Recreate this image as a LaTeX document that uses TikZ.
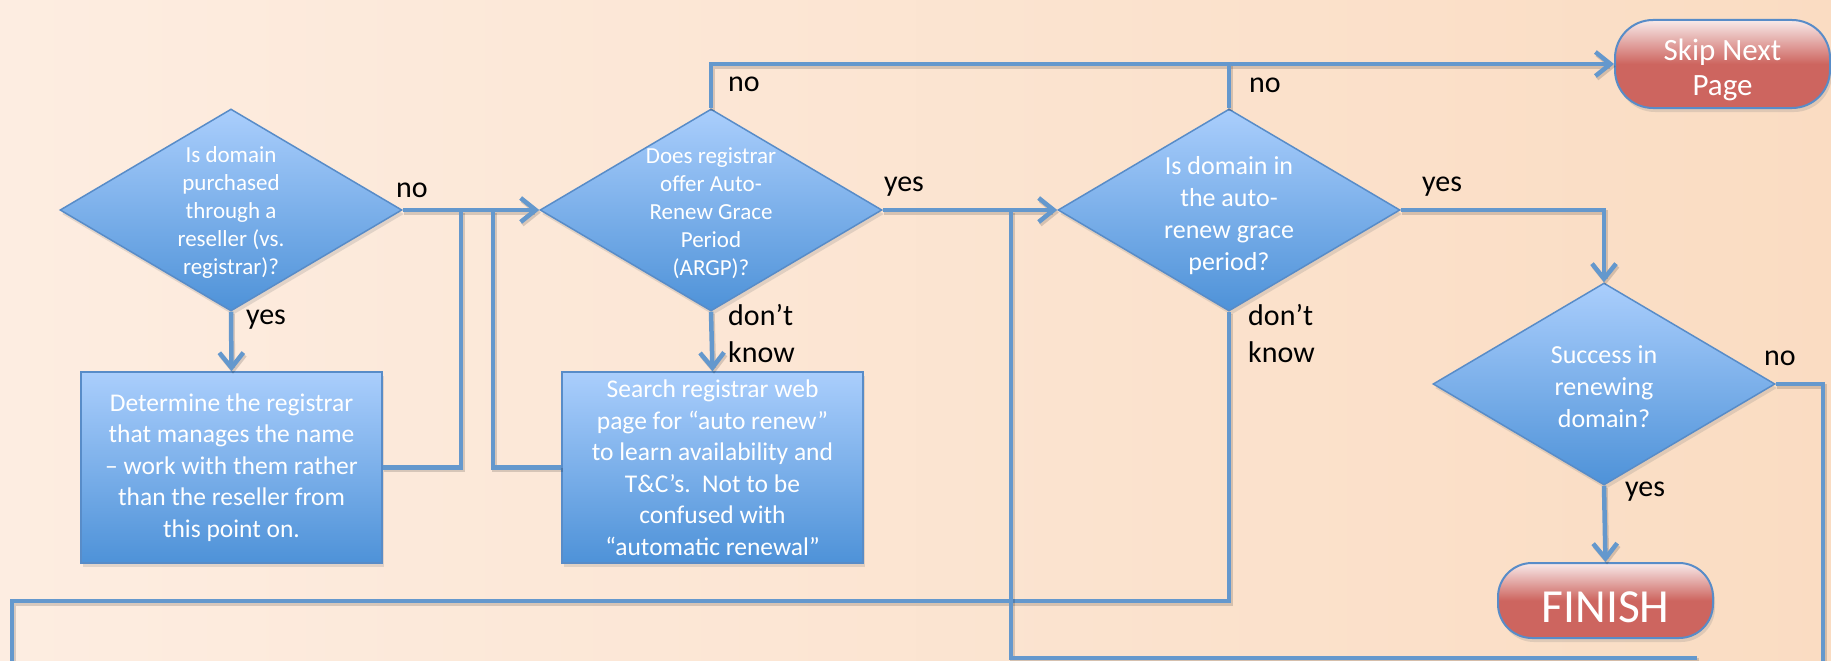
\documentclass[tikz,border=0pt]{standalone}
\usepackage{fontspec}
\setmainfont{Carlito}
\usetikzlibrary{shapes.geometric,arrows.meta,shadows}
\definecolor{bgA}{RGB}{253,237,225}
\definecolor{bgB}{RGB}{250,220,194}
\definecolor{connc}{RGB}{100,152,205}
\definecolor{shapeTop}{RGB}{170,206,252}
\definecolor{shapeBot}{RGB}{78,146,216}
\definecolor{shapeLine}{RGB}{88,140,200}
\definecolor{redTop}{RGB}{248,234,234}
\definecolor{redMain}{RGB}{205,101,95}
\begin{document}
\begin{tikzpicture}[x=1pt,y=-1pt,
  shapebase/.style={draw=shapeLine, line width=1.5pt, top color=shapeTop, bottom color=shapeBot,
    text=white, inner sep=0pt,
    drop shadow={shadow xshift=2pt, shadow yshift=-4pt, opacity=0.22}},
  decision/.style={shapebase, diamond, minimum width=342pt, minimum height=202pt},
  procbox/.style={shapebase, rectangle, minimum width=301pt, minimum height=191pt,
    align=center, font=\fontsize{25.5}{31.5}\selectfont},
  terminal/.style={draw=shapeLine, line width=2pt, top color=redTop, bottom color=redMain,
    middle color=redMain, inner sep=0pt,
    drop shadow={shadow xshift=2pt, shadow yshift=-4pt, opacity=0.22}},
  ttext/.style={text=white, inner sep=0pt, align=center},
  dtextA/.style={text=white, align=center, inner sep=0pt, font=\fontsize{23}{28}\selectfont},
  dtextB/.style={text=white, align=center, inner sep=0pt, font=\fontsize{26}{32}\selectfont},
  lbl/.style={text=black, inner sep=0pt, align=left, font=\fontsize{30}{37}\selectfont},
  connline/.style={draw=connc, line width=4.5pt,
    preaction={draw=black, opacity=0.15, line width=4.5pt, transform canvas={shift={(1.5pt,-2.5pt)}}}},
  arr/.style={-{Straight Barb[length=15pt,width=24pt]}}
]
\useasboundingbox (0,0) rectangle (1831,661);
\clip (0,0) rectangle (1831,661);
\fill[left color=bgA, right color=bgB] (0,0) rectangle (1831,661);

% coordinates
\coordinate (J1) at (461,210);
\coordinate (J2) at (493,210);
\coordinate (J3) at (1229,64);
\coordinate (J4) at (1011,210);
\coordinate (C1) at (12,601);
\coordinate (C2) at (12,700);
\coordinate (C3) at (1823,700);
\coordinate (C4) at (1697,658);

% nodes
\node[decision] (D1) at (231,210) {};
\node[dtextA] (D1t) at (231,212) {Is domain\\purchased\\through a\\reseller (vs.\\registrar)?};
\node[procbox] (B1) at (231.5,467.5) {Determine the registrar\\that manages the name\\– work with them rather\\than the reseller from\\this point on.};

\node[decision] (D2) at (711,210) {};
\node[dtextA] (D2t) at (711,213) {Does registrar\\offer Auto-\\Renew Grace\\Period\\(ARGP)?};
\node[procbox] (B2) at (712.5,467.5) {Search registrar web\\page for “auto renew”\\to learn availability and\\T\&C’s.\ \ Not to be\\confused with\\“automatic renewal”};

\node[decision] (D3) at (1229,210) {};
\node[dtextB] (D3t) at (1229,216) {Is domain in\\the auto-\\renew grace\\period?};

\node[decision] (D4) at (1604,384) {};
\node[dtextB] (D4t) at (1604,387) {Success in\\renewing\\domain?};

\node[terminal, rounded corners=38pt, minimum width=215pt, minimum height=88pt] (Skip) at (1722.5,64) {};
\node[ttext, font=\fontsize{31}{35}\selectfont] (Skipt) at (1722.5,70) {Skip Next\\Page};
\node[terminal, rounded corners=34pt, minimum width=215pt, minimum height=75pt] (Fin) at (1605.5,600.5) {};
\node[ttext, font=\fontsize{47.5}{50}\selectfont] (Fint) at (1605.5,607) {FINISH};

% connectors
\draw[connline,arr] (D1.east) -- (D2.west);
\draw[connline] (B1.east) -| (J1);
\draw[connline] (B2.west) -| (J2);
\draw[connline,arr] (D1.south) -- (B1.north);
\draw[connline,arr] (D2.south) -- (B2.north);
\draw[connline,arr] (D2.north) |- (Skip.west);
\draw[connline] (D3.north) -- (J3);
\draw[connline,arr] (D2.east) -- (D3.west);
\draw[connline,arr] (D3.east) -| (D4.north);
\draw[connline] (D3.south) |- (C1) -- (C2);
\draw[connline] (D4.east) -| (C3);
\draw[connline] (C4) -| (J4);
\draw[connline,arr] (D4.south) -- (Fin.north);

% labels
\node[lbl] (L1) at (412,190) {no};
\node[lbl] (L2) at (266,320) {yes};
\node[lbl] (L3) at (744,84) {no};
\node[lbl, anchor=west] (L4) at (728,334) {don’t\\know};
\node[lbl] (L5) at (904,187) {yes};
\node[lbl] (L6) at (1265,85) {no};
\node[lbl] (L7) at (1442,187) {yes};
\node[lbl, anchor=west] (L8) at (1248,334) {don’t\\know};
\node[lbl] (L9) at (1645,492) {yes};
\node[lbl] (L10) at (1780,358) {no};
\end{tikzpicture}
\end{document}
